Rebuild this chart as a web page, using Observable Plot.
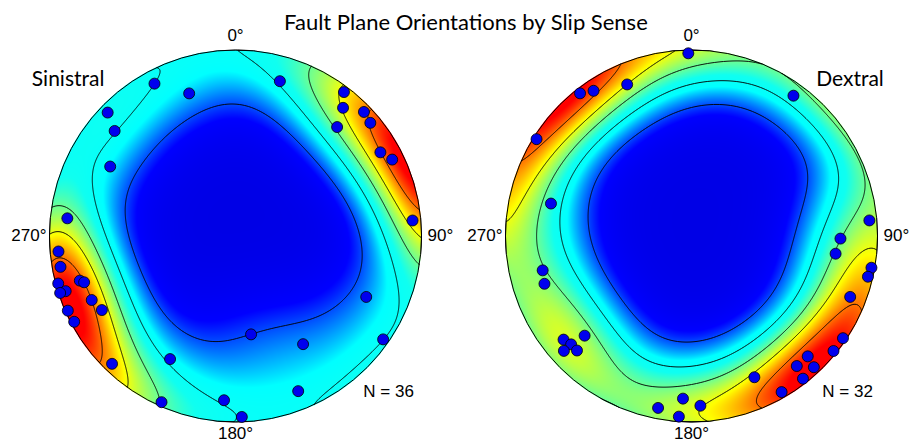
<!DOCTYPE html>
<html><head><meta charset="utf-8">
<script src="https://cdn.jsdelivr.net/npm/d3@7"></script>
<script src="https://cdn.jsdelivr.net/npm/@observablehq/plot@0.6"></script>
<style>body{margin:0;background:#fff}</style>
</head><body><div id="chart"></div>
<script>
// ---- data (poles to fault planes: trend °, plunge °) ----
const title = "Fault Plane Orientations by Slip Sense";
const panels = ["Sinistral", "Dextral"];
const counts = ["N = 36", "N = 32"];
const directionLabels = ["0°", "90°", "180°", "270°"];
const directionAzimuths = [0, 90, 180, 270];

const sinistralTrend  = [332, 342, 314, 311, 299, 276, 16, 37, 40, 46, 50, 43, 60, 64, 85, 265, 260, 254, 253, 255, 252, 252, 246, 246, 242, 241, 224, 208, 204, 184, 178, 115, 171, 148, 125, 158];
const sinistralPlunge = [8, 20.5, 5, 15, 24, 10, 14.5, 3.5, 11, 4.5, 6, 21, 11, 7, 5, 5, 5, 14, 16, 1.5, 4.5, 1, 16.5, 1.5, 2, 19, 5, 26, 2.5, 12.5, 3, 23.5, 45.5, 32, 3.5, 11];

const dextralTrend  = [359, 322, 326, 337, 302, 283, 36, 85, 91, 257, 252, 231, 228, 228, 225, 227, 191, 183, 184, 97, 100, 103, 111, 124, 129, 136, 141, 137, 142, 150, 156, 177];
const dextralPlunge = [2, 3, 6.5, 12.5, 2, 23.5, 7.5, 4.5, 21, 19, 18, 12.5, 14, 8.5, 14, 22.5, 6.5, 13.5, 3, 23, 2, 3, 9.5, 2, 2, 11, 11, 4, 3, 3.5, 18, 9.5];

const colorDomain = [0, 0.1, 0.27, 0.37, 0.66, 0.95];
const colorStops = ["#0000e6", "#0000ff", "#00ffff", "#10fff0", "#ffff00", "#ff0000"];
const contourLevels = [0.15, 0.32, 0.48, 0.64, 0.82];

// ---- geometry (equal-area, lower hemisphere) ----
const rad = Math.PI / 180;
const R = 186;                 // net radius in px
const cx0 = 235, cy0 = 235.5;  // left net centre in px
const offset = 456 / R;        // right net centre, data units
const W = 915, H = 443;
const offsets = [0, offset];

function project(t, p) {
  const r = Math.SQRT2 * Math.sin((90 - p) * rad / 2);
  return [r * Math.sin(t * rad), r * Math.cos(t * rad)];
}
function poleVec(t, p) {
  return [Math.cos(p * rad) * Math.sin(t * rad), Math.cos(p * rad) * Math.cos(t * rad), -Math.sin(p * rad)];
}
function unproject(x, y) {
  let r = Math.hypot(x, y);
  if (r > 1) { x /= r; y /= r; r = 1; }
  if (r === 0) return [0, 0, -1];
  const th = 2 * Math.asin(r / Math.SQRT2);
  const s = Math.sin(th) / r;
  return [x * s, y * s, -Math.cos(th)];
}
function makeDensity(trends, plunges) {
  const n = trends.length, k = 2 * (1 + n / 9);
  const vs = trends.map((t, i) => poleVec(t, plunges[i]));
  const raw = (x, y) => {
    const u = unproject(x, y);
    let s = 0;
    for (const v of vs) {
      const c = Math.abs(u[0] * v[0] + u[1] * v[1] + u[2] * v[2]);
      s += Math.exp(k * (c - 1));
    }
    return s;
  };
  let lo = Infinity, hi = -Infinity;
  const N = 140;
  for (let i = 0; i <= N; i++) for (let j = 0; j <= N; j++) {
    const x = -1 + 2 * i / N, y = -1 + 2 * j / N;
    if (x * x + y * y > 1) continue;
    const d = raw(x, y);
    if (d < lo) lo = d;
    if (d > hi) hi = d;
  }
  return (x, y) => (raw(x, y) - lo) / (hi - lo);
}

const sets = [
  {trend: sinistralTrend, plunge: sinistralPlunge},
  {trend: dextralTrend, plunge: dextralPlunge}
];
const densities = sets.map(s => makeDensity(s.trend, s.plunge));

const dots = sets.flatMap((s, i) => s.trend.map((t, j) => {
  const [x, y] = project(t, s.plunge[j]);
  return {x: x + offsets[i], y};
}));

const dirRows = offsets.flatMap(o => directionLabels.map((label, i) => {
  const a = directionAzimuths[i];
  return {label, x: o + Math.sin(a * rad), y: Math.cos(a * rad), a};
}));

const marks = [];
offsets.forEach((o, i) => {
  const f = densities[i];
  marks.push(Plot.raster({fill: (x, y) => f(x - o, y), x1: o - 1, x2: o + 1, y1: -1, y2: 1, pixelSize: 1}));
  marks.push(Plot.contour({value: (x, y) => f(x - o, y), x1: o - 1, x2: o + 1, y1: -1, y2: 1, pixelSize: 1,
    thresholds: contourLevels, fill: "none", stroke: "black", strokeWidth: 0.9}));
  // white ring hides everything of the square outside the net
  marks.push(Plot.dot([o], {x: d => d, y: () => 0, r: R + 40.5, stroke: "white", strokeWidth: 80, fill: "none"}));
});
marks.push(Plot.dot(offsets, {x: d => d, y: () => 0, r: R, stroke: "black", strokeWidth: 1, fill: "none"}));
marks.push(Plot.dot(dots, {x: "x", y: "y", r: 5.5, fill: "#0000ee", stroke: "black", strokeWidth: 0.8}));

const numFont = "Liberation Sans, Arial, sans-serif";
const txtFont = "Lato, Open Sans, sans-serif";
marks.push(Plot.text(dirRows.filter(d => d.a === 0), {x: "x", y: "y", text: "label", dy: -14, fontSize: 17, fontFamily: numFont, fill: "black"}));
marks.push(Plot.text(dirRows.filter(d => d.a === 180), {x: "x", y: "y", text: "label", dy: 12, fontSize: 17, fontFamily: numFont, fill: "black"}));
marks.push(Plot.text(dirRows.filter(d => d.a === 90), {x: "x", y: "y", text: "label", dx: 6, textAnchor: "start", fontSize: 17, fontFamily: numFont, fill: "black"}));
marks.push(Plot.text(dirRows.filter(d => d.a === 270), {x: "x", y: "y", text: "label", dx: -3, textAnchor: "end", fontSize: 17, fontFamily: numFont, fill: "black"}));

const panelLabelX = [-0.90, offset + 0.852];
marks.push(Plot.text(panels, {x: (d, i) => panelLabelX[i], y: () => 0.845, text: d => d, fontSize: 21, fontFamily: txtFont, fill: "black"}));
const countX = [0.823, offset + 0.839];
marks.push(Plot.text(counts, {x: (d, i) => countX[i], y: () => -0.834, text: d => d, fontSize: 17, fontFamily: numFont, fill: "black"}));
marks.push(Plot.text([title], {x: () => offset / 2 + 0.013, y: () => 1.145, text: d => d, fontSize: 22, fontFamily: txtFont, fill: "black"}));

const chart = Plot.plot({
  width: W, height: H, margin: 0,
  style: {background: "white", overflow: "visible"},
  x: {domain: [-cx0 / R, (W - cx0) / R], axis: null},
  y: {domain: [-(H - cy0) / R, cy0 / R], axis: null},
  color: {type: "linear", domain: colorDomain, range: colorStops, interpolate: "rgb", clamp: true},
  marks
});
document.getElementById("chart").appendChild(chart);
</script>
</body></html>
